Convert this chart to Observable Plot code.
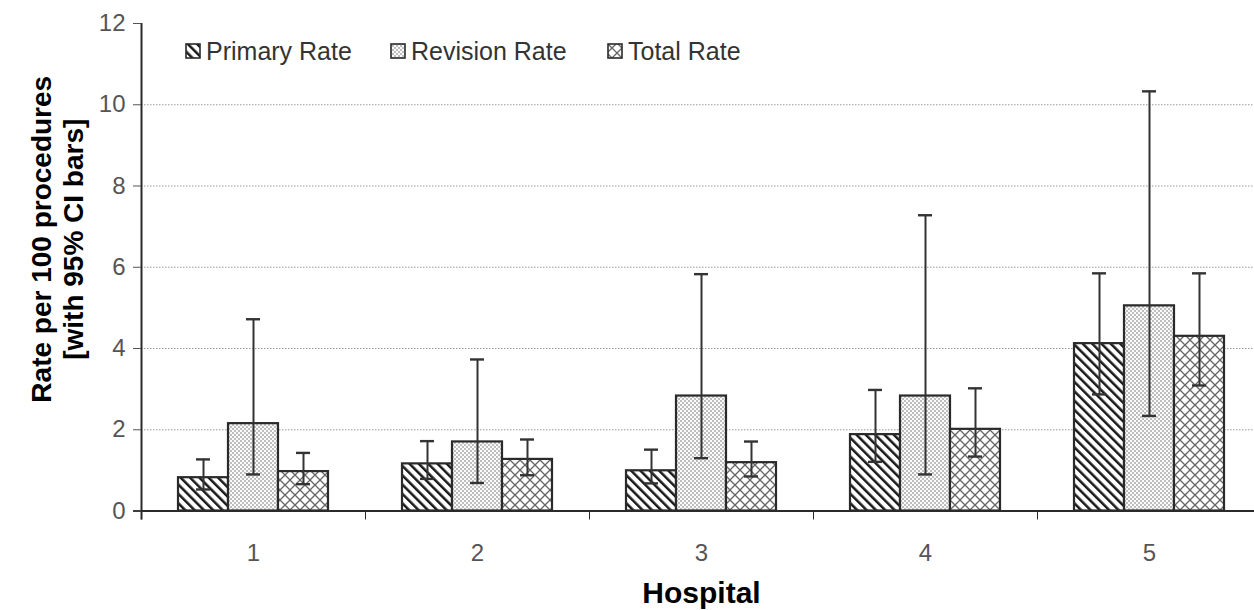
<!DOCTYPE html>
<html><head><meta charset="utf-8">
<script src="https://cdn.jsdelivr.net/npm/d3@7"></script>
<script src="https://cdn.jsdelivr.net/npm/@observablehq/plot@0.6"></script>
<style>
body{margin:0;background:#fff;}
#wrap{position:relative;width:1254px;height:610px;font-family:"Liberation Sans",Arial,sans-serif;overflow:hidden;}
#legend{position:absolute;left:0;top:0;}
.item{position:absolute;display:flex;align-items:center;font-size:25px;color:#333;white-space:nowrap;height:30px;}
.item svg{margin-right:5px;}
</style></head><body><div id="wrap"><div id="legend"></div></div>
<script>
const hospitals = ["1","2","3","4","5"];
const seriesNames = ["Primary Rate","Revision Rate","Total Rate"];
const primaryRate = [0.82,1.16,0.99,1.88,4.12];
const primaryLow  = [0.53,0.79,0.68,1.21,2.87];
const primaryHigh = [1.27,1.72,1.51,2.98,5.85];
const revisionRate = [2.15,1.70,2.83,2.83,5.05];
const revisionLow  = [0.90,0.69,1.30,0.90,2.34];
const revisionHigh = [4.72,3.73,5.83,7.28,10.33];
const totalRate = [0.97,1.27,1.19,2.01,4.30];
const totalLow  = [0.66,0.88,0.85,1.34,3.09];
const totalHigh = [1.43,1.76,1.71,3.02,5.85];
const yTicks = [0,2,4,6,8,10,12];
const gridValues = [2,4,6,8,10];
const yTitle = ["Rate per 100 procedures","[with 95% CI bars]"];
const xTitle = "Hospital";

const seriesData = [
  {name: seriesNames[0], rate: primaryRate, low: primaryLow, high: primaryHigh, pat: "pPrimary", iL: 37, iR: 137, dx: -50},
  {name: seriesNames[1], rate: revisionRate, low: revisionLow, high: revisionHigh, pat: "pRevision", iL: 87, iR: 87, dx: 0},
  {name: seriesNames[2], rate: totalRate, low: totalLow, high: totalHigh, pat: "pTotal", iL: 137, iR: 37, dx: 50}
];
const rowsFor = s => hospitals.map((h, i) => ({hospital: h, series: s.name, rate: s.rate[i], low: s.low[i], high: s.high[i]}));

const ink = "#2a2a2a";
const marks = [
  Plot.ruleY(gridValues, {stroke: "#9a9a9a", strokeWidth: 1, strokeDasharray: "1.5,1.5"})
];
for (const s of seriesData) {
  marks.push(Plot.barY(rowsFor(s), {x: "hospital", y: "rate", fill: `url(#${s.pat})`, stroke: ink, strokeWidth: 2.2, insetLeft: s.iL, insetRight: s.iR}));
}
marks.push(Plot.ruleY([0], {stroke: ink, strokeWidth: 2, insetLeft: -8}));
marks.push(Plot.ruleX([hospitals[0]], {x: d => d, dx: -112, stroke: ink, strokeWidth: 2, insetBottom: -9}));
for (const s of seriesData) {
  const rows = rowsFor(s);
  marks.push(Plot.ruleX(rows, {x: "hospital", y1: "low", y2: "high", dx: s.dx, stroke: "#333", strokeWidth: 2}));
  marks.push(Plot.tickY(rows, {x: "hospital", y: "high", dx: s.dx, insetLeft: 105, insetRight: 105, stroke: "#333", strokeWidth: 2.4}));
  marks.push(Plot.tickY(rows, {x: "hospital", y: "low", dx: s.dx, insetLeft: 105, insetRight: 105, stroke: "#333", strokeWidth: 2.4}));
}
marks.push(Plot.axisY({ticks: yTicks, tickSize: 8, tickPadding: 8, fontSize: 24, color: "#555", label: null}));
marks.push(Plot.axisX({tickSize: 0, tickPadding: 33, fontSize: 24, color: "#555", label: null}));
marks.push(Plot.axisX({tickSize: 9, tickFormat: () => "", dx: -112, color: ink, label: null}));
marks.push(Plot.text([yTitle.join("\n")], {text: d => d, frameAnchor: "left", textAnchor: "middle", lineAnchor: "middle", dx: -85, dy: -28, rotate: -90, fontSize: 28, fontWeight: "bold", lineHeight: 1.14, fill: "#000"}));
marks.push(Plot.text([xTitle], {text: d => d, frameAnchor: "bottom", textAnchor: "middle", lineAnchor: "middle", dy: 82, fontSize: 30, fontWeight: "bold", fill: "#000"}));

const chart = Plot.plot({
  width: 1254,
  height: 610,
  marginLeft: 141,
  marginRight: -7,
  marginTop: 23,
  marginBottom: 99.5,
  style: {fontFamily: "'Liberation Sans', Arial, sans-serif", background: "#fff", overflow: "visible"},
  x: {type: "band", domain: hospitals, padding: 0},
  y: {domain: [0, 12]},
  marks
});

const defs = d3.select(chart).insert("defs", ":first-child");
const p1 = defs.append("pattern").attr("id", "pPrimary").attr("patternUnits", "userSpaceOnUse")
  .attr("width", 6.6).attr("height", 6.6).attr("patternTransform", "rotate(-45)");
p1.append("rect").attr("width", 6.6).attr("height", 6.6).attr("fill", "#fff");
p1.append("rect").attr("width", 2.5).attr("height", 6.6).attr("fill", "#1a1a1a");
const p2 = defs.append("pattern").attr("id", "pRevision").attr("patternUnits", "userSpaceOnUse")
  .attr("width", 4).attr("height", 4);
p2.append("rect").attr("width", 4).attr("height", 4).attr("fill", "#fafafa");
p2.append("circle").attr("cx", 1).attr("cy", 1).attr("r", 0.68).attr("fill", "#555");
p2.append("circle").attr("cx", 3).attr("cy", 3).attr("r", 0.68).attr("fill", "#555");
const p3 = defs.append("pattern").attr("id", "pTotal").attr("patternUnits", "userSpaceOnUse")
  .attr("width", 10).attr("height", 10);
p3.append("rect").attr("width", 10).attr("height", 10).attr("fill", "#fff");
p3.append("path").attr("d", "M0,0L10,10M10,0L0,10").attr("stroke", "#666").attr("stroke-width", 1.3).attr("fill", "none");

document.getElementById("wrap").appendChild(chart);

const legendLeft = [185, 390, 607];
const legend = d3.select("#legend");
seriesData.forEach((s, i) => {
  const it = legend.append("div").attr("class", "item").style("left", legendLeft[i] + "px").style("top", "36px");
  const sw = it.append("svg").attr("width", 16).attr("height", 16);
  sw.append("rect").attr("x", 1).attr("y", 1).attr("width", 14).attr("height", 14)
    .attr("fill", `url(#${s.pat})`).attr("stroke", ink).attr("stroke-width", 1.6);
  it.append("span").text(s.name);
});
d3.select("#legend").raise();
</script>
</body></html>
